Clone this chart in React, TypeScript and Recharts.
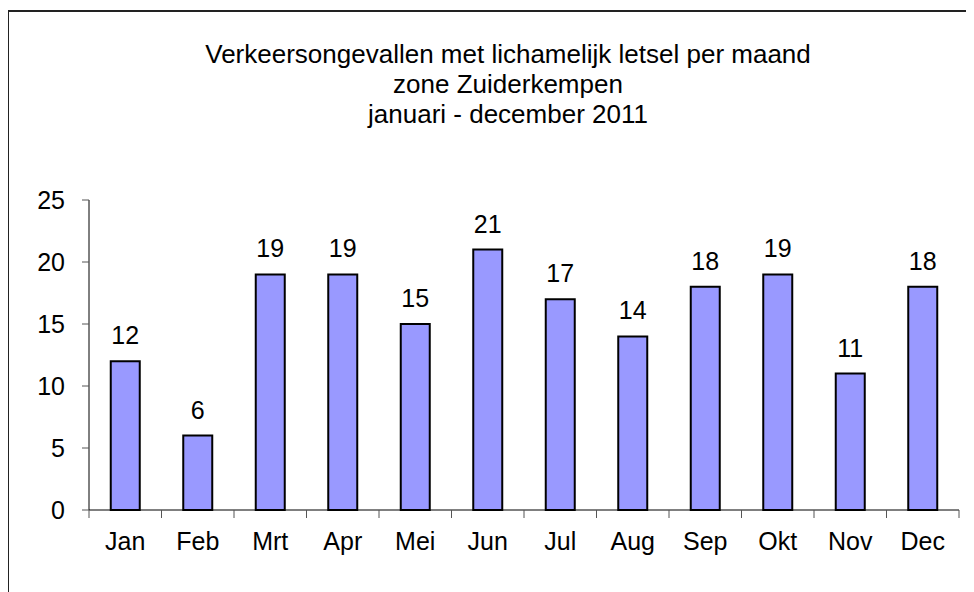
import { BarChart, Bar, XAxis, YAxis, LabelList } from "recharts";

const months = ["Jan", "Feb", "Mrt", "Apr", "Mei", "Jun", "Jul", "Aug", "Sep", "Okt", "Nov", "Dec"];
const accidents = [12, 6, 19, 19, 15, 21, 17, 14, 18, 19, 11, 18];
const yTicks = [0, 5, 10, 15, 20, 25];
const titleLines = [
  "Verkeersongevallen met lichamelijk letsel per maand",
  "zone Zuiderkempen",
  "januari - december 2011",
];

const data = months.map((m, i) => ({ month: m, value: accidents[i] }));

const font = "'Liberation Sans', Arial, sans-serif";

function MonthTick(props: any) {
  const { x, y, payload, index, visibleTicksCount } = props;
  const half = payload.offset || 0;
  const last = index === visibleTicksCount - 1;
  return (
    <g>
      <line x1={x - half} x2={x - half} y1={y} y2={y + 8} stroke="#555" strokeWidth={1} />
      {last && <line x1={x + half} x2={x + half} y1={y} y2={y + 8} stroke="#555" strokeWidth={1} />}
      <text x={x} y={y + 22} dy="0.71em" textAnchor="middle" fontSize={25} fill="#000" fontFamily={font}>
        {payload.value}
      </text>
    </g>
  );
}

export default function App() {
  return (
    <div style={{ position: "relative", width: 966, height: 584, fontFamily: font, background: "#fff" }}>
      <div
        style={{
          position: "absolute",
          left: -1,
          top: 2,
          width: 1200,
          height: 800,
          borderLeft: "2px solid #222",
          borderTop: "2px solid #222",
          boxSizing: "border-box",
        }}
      />
      <svg style={{ position: "absolute", left: 0, top: 0 }} width={966} height={140}>
        {titleLines.map((t, i) => (
          <text key={i} x={500} y={55 + i * 30} textAnchor="middle" fontSize={26} fill="#000" fontFamily={font}>
            {t}
          </text>
        ))}
      </svg>
      <div style={{ position: "absolute", left: 0, top: 0 }}>
        <BarChart width={966} height={584} data={data} margin={{ top: 192, right: 15, left: 0, bottom: 22 }} barCategoryGap="30%">
          <XAxis
            dataKey="month"
            height={60}
            tickLine={false}
            tickSize={0}
            tickMargin={0}
            axisLine={{ stroke: "#000", strokeWidth: 1 }}
            tick={(p: any) => <MonthTick {...p} />}
            interval={0}
          />
          <YAxis
            width={81}
            domain={[0, 25]}
            ticks={yTicks}
            interval={0}
            tickSize={7}
            tickMargin={17}
            axisLine={{ stroke: "#000", strokeWidth: 1 }}
            tickLine={{ stroke: "#555" }}
            tick={{ fontSize: 25, fill: "#000", fontFamily: font }}
          />
          <Bar dataKey="value" fill="#9999FF" stroke="#000" strokeWidth={2} isAnimationActive={false}>
            <LabelList dataKey="value" position="top" offset={17} fontSize={25} fill="#000" fontFamily={font} />
          </Bar>
        </BarChart>
      </div>
    </div>
  );
}
